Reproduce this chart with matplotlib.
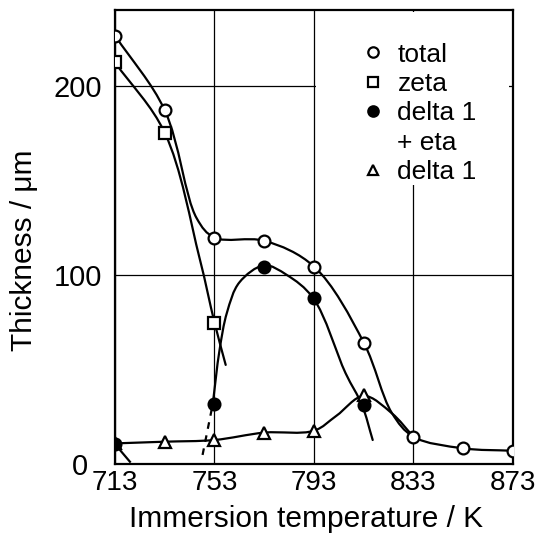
### Thickness of the coating layers vs immersion temperature ###
import numpy as np
import matplotlib
matplotlib.use("Agg")
import matplotlib.pyplot as plt
import matplotlib.transforms as mtransforms
from matplotlib.path import Path
from matplotlib.patches import PathPatch, Rectangle
from matplotlib.lines import Line2D

### Data ###
# measured points (markers)
temp_total = [713, 733, 753, 773, 793, 813, 833, 853, 873]
total = [226.5, 187, 119.7, 118, 104.4, 64.2, 14.4, 8.3, 7.0]
temp_zeta = [713, 733, 753]
zeta = [212.3, 175.1, 74.8]
temp_d1eta = [713, 753, 773, 793, 813]
d1eta = [10.5, 31.7, 104.0, 87.7, 31.2]
temp_d1 = [713, 733, 753, 773, 793, 813]
d1 = [10.9, 11.8, 12.7, 16.6, 17.6, 36.5]

# hand drawn curves, traced along the lines of the picture
total_curve_t = [713, 733, 745.8, 753, 773, 793, 813, 824.3, 833, 853, 873]
total_curve_v = [226.5, 187, 130.0, 119.7, 118, 104.4, 64.2, 27, 14.4, 8.3, 7.0]
zeta_curve_t = [713, 733, 747, 753, 757.5]
zeta_curve_v = [212.3, 175.1, 108.8, 74.8, 52.4]
d1eta_curve_t = [752.3, 755, 758, 763, 773, 782, 792.7, 805.7, 812.3, 816.6]
d1eta_curve_v = [31.7, 60, 80, 96, 105, 100, 87.7, 48, 31.2, 12.7]
d1eta_dash_t = [748.2, 752.3]
d1eta_dash_v = [4.8, 31.7]
d1eta_tail_t = [713, 719]
d1eta_tail_v = [10.5, 1.2]
d1_curve_t = [713, 733, 753, 773, 793, 802, 813, 824.3, 833]
d1_curve_v = [10.9, 11.8, 12.7, 16.6, 17.6, 25.5, 36.0, 26.8, 14.4]

x_ticks = [713, 753, 793, 833, 873]
y_ticks = [0, 100, 200]

plt.rcParams['font.family'] = ['Liberation Sans', 'DejaVu Sans']

# pixel size of one unit on each axis, so the curve is smoothed in screen space
SX, SY = 2.49, 1.89


def smooth_line(ax, xs, ys, **kw):
    # centripetal Catmull-Rom through the traced points, drawn as a bezier path
    pts = np.column_stack([np.asarray(xs) * SX, np.asarray(ys) * SY]).astype(float)
    first = 2 * pts[0] - pts[1]
    last = 2 * pts[-1] - pts[-2]
    padded = np.vstack([first, pts, last])
    verts = [pts[0]]
    codes = [Path.MOVETO]
    for i in range(len(pts) - 1):
        p0, p1, p2, p3 = padded[i:i + 4]
        d1 = np.linalg.norm(p1 - p0) ** 0.5
        d2 = np.linalg.norm(p2 - p1) ** 0.5
        d3 = np.linalg.norm(p3 - p2) ** 0.5
        b1 = (d1**2 * p2 - d2**2 * p0 + (2 * d1**2 + 3 * d1 * d2 + d2**2) * p1) / (3 * d1 * (d1 + d2))
        b2 = (d3**2 * p1 - d2**2 * p3 + (2 * d3**2 + 3 * d3 * d2 + d2**2) * p2) / (3 * d3 * (d3 + d2))
        verts += [b1, b2, p2]
        codes += [Path.CURVE4] * 3
    verts = np.array(verts) / [SX, SY]
    ax.add_patch(PathPatch(Path(verts, codes), fill=False, **kw))


### Plot ###
fig = plt.figure(figsize=(5.44, 5.4), dpi=100)
ax = fig.add_axes([0.2114, 0.1407, 0.7316, 0.8408])

lw = 1.6
line_kw = dict(edgecolor='black', lw=lw, zorder=3, capstyle='round')
smooth_line(ax, total_curve_t, total_curve_v, **line_kw)
smooth_line(ax, zeta_curve_t, zeta_curve_v, **line_kw)
smooth_line(ax, d1eta_curve_t, d1eta_curve_v, **line_kw)
smooth_line(ax, d1_curve_t, d1_curve_v, **line_kw)
ax.plot(d1eta_tail_t, d1eta_tail_v, color='black', lw=lw, zorder=3)
ax.plot(d1eta_dash_t, d1eta_dash_v, color='black', lw=lw, ls=(0, (3, 3)), zorder=3)

mk = dict(ls='none', color='black', ms=8.5, mew=1.6, zorder=5)
ax.plot(temp_d1, d1, marker='^', mfc='white', **mk)
ax.plot(temp_d1eta, d1eta, marker='o', mfc='black', **mk)
ax.plot(temp_zeta, zeta, marker='s', mfc='white', **mk)
ax.plot(temp_total, total, marker='o', mfc='white', **mk)

ax.set_xlim(713, 873)
ax.set_ylim(0, 240)
ax.set_xticks(x_ticks)
ax.set_yticks(y_ticks)
ax.grid(True, color='black', lw=0.9)
ax.set_axisbelow(True)
for s in ax.spines.values():
    s.set_linewidth(1.6)
ax.tick_params(length=0)
ax.tick_params(axis='y', labelsize=21, pad=9.5)
ax.tick_params(axis='x', labelsize=20, pad=4)

# the "0" sits further left, clear of the "713" below it
shift = mtransforms.ScaledTranslation(-10 / 72, 0, fig.dpi_scale_trans)
zero_label = ax.get_yticklabels()[0]
zero_label.set_transform(zero_label.get_transform() + shift)

ax.set_xlabel('Immersion temperature / K', fontsize=21.5)
ax.set_ylabel('Thickness / μm', fontsize=21.5)
ax.xaxis.set_label_coords(0.48, -0.09)
ax.yaxis.set_label_coords(-0.1935, 0.471)

# white area behind the legend hides the grid there
ax.add_patch(Rectangle((0.505, 0.615), 0.485, 0.38, transform=ax.transAxes,
                       facecolor='white', edgecolor='none', zorder=1))

leg_mk = dict(ls='none', color='black', ms=7.5, mew=1.6)
handles = [Line2D([], [], marker='o', mfc='white', **leg_mk),
           Line2D([], [], marker='s', mfc='white', ms=6.5, mew=1.6, ls='none', color='black'),
           Line2D([], [], marker='o', mfc='black', **leg_mk),
           Line2D([], [], ls='none'),
           Line2D([], [], marker='^', mfc='white', **leg_mk)]
labels = ['total', 'zeta', 'delta 1', '+ eta', 'delta 1']
leg = ax.legend(handles, labels, loc='upper left', bbox_to_anchor=(0.6156, 0.928),
                frameon=False, fontsize=19, handlelength=1.0, handletextpad=0.42,
                labelspacing=0.2, borderpad=0, borderaxespad=0)
leg.set_zorder(6)

fig.savefig('out.png', dpi=100)
